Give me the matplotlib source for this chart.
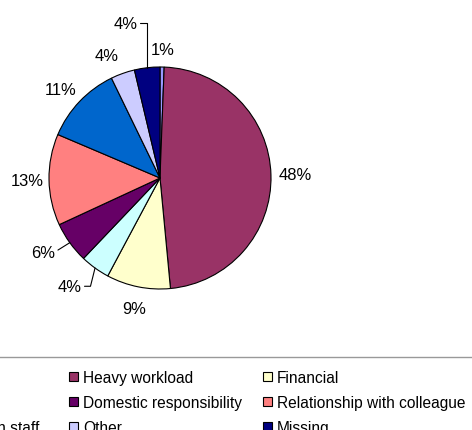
import numpy as np
import matplotlib
matplotlib.use("Agg")
import matplotlib.pyplot as plt

plt.rcParams["font.family"] = ["Liberation Sans", "DejaVu Sans"]

# ==============================
# Data
# ==============================

causes = [
    "Personal",
    "Heavy workload",
    "Financial",
    "Health",
    "Domestic responsibility",
    "Relationship with colleague",
    "Relation with admin staff",
    "Other",
    "Missing",
]

shares = [0.6, 47.9, 9.3, 4.3, 6.0, 13.3, 11.4, 3.5, 3.7]

colors = ["#9999FF", "#993366", "#FFFFCC", "#CCFFFF", "#660066",
          "#FF8080", "#0066CC", "#CCCCFF", "#000080"]

# ==============================
# Label placement tweaks (layout only)
# ==============================

label_dist = [1.16, 1.22, 1.2, 1.27, 1.25, 1.2, 1.2, 1.2, 1.43]
label_shift = [0, 0, 0, -4, -3, 0, 2, 4, 6]      # degrees
leader_angle = {3: 76, 4: 32, 8: 90}             # elbow leader lines

# ==============================
# Figure
# ==============================

W, H = 472, 431
fig = plt.figure(figsize=(W / 100, H / 100), dpi=100)

cx, cy, r = 160, 179, 111
ax = fig.add_axes([(cx - r) / W, (H - cy - r) / H, 2 * r / W, 2 * r / H])

wedges, _ = ax.pie(
    shares,
    colors=colors,
    startangle=90,
    counterclock=False,
    radius=1,
    wedgeprops=dict(edgecolor="black", linewidth=0.8),
)
ax.set_xlim(-1, 1)
ax.set_ylim(-1, 1)
ax.set_aspect("equal")
ax.axis("off")

for i, w in enumerate(wedges):
    mid = np.deg2rad((w.theta1 + w.theta2) / 2)
    lab = np.deg2rad((w.theta1 + w.theta2) / 2 + label_shift[i])
    pos = (label_dist[i] * np.cos(lab), label_dist[i] * np.sin(lab))
    txt = f"{int(shares[i] + 0.5)}%"
    if i in leader_angle:
        ax.annotate(
            txt,
            xy=(np.cos(mid), np.sin(mid)),
            xytext=pos,
            ha="center", va="center", fontsize=11.9,
            arrowprops=dict(
                arrowstyle="-", lw=0.8, color="black",
                shrinkA=0, shrinkB=0,
                connectionstyle=f"angle,angleA=0,angleB={leader_angle[i]},rad=0",
            ),
        )
    else:
        ax.text(pos[0], pos[1], txt, ha="center", va="center", fontsize=11.9)

# ==============================
# Legend (row-major like the original, cut by the canvas edge)
# ==============================

order = [0, 3, 6, 1, 4, 7, 2, 5, 8]
# first column is a bit wider than its text in the original
legend_labels = [causes[k] + ("  " if k == 6 else "") for k in order]

leg = fig.legend(
    [wedges[k] for k in order],
    legend_labels,
    ncol=3,
    loc="upper right",
    bbox_to_anchor=(479 / W, 1 - 357.5 / H),
    bbox_transform=fig.transFigure,
    frameon=True,
    fancybox=False,
    edgecolor="#808080",
    borderaxespad=0,
    borderpad=0.86,
    labelspacing=0.64,
    handlelength=0.55,
    handleheight=0.55,
    handletextpad=0.35,
    columnspacing=1.35,
    fontsize=11.2,
)
leg.get_frame().set_linewidth(1.0)

fig.savefig("out.png", dpi=100)
